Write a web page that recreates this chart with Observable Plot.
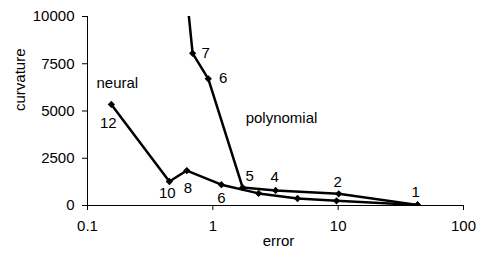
<!DOCTYPE html>
<html><head><meta charset="utf-8">
<script src="https://cdn.jsdelivr.net/npm/d3@7"></script>
<script src="https://cdn.jsdelivr.net/npm/@observablehq/plot@0.6"></script>
<style>body{margin:0;background:#fff}</style>
</head><body><div id="chart"></div>
<script>
// polynomial series (first point lies above the 10000 top and is clipped)
const polyError = [0.54, 0.69, 0.92, 1.73, 3.17, 10.1, 43];
const polyCurv  = [15000, 8050, 6700, 950, 800, 620, 30];
const polyLabel = ["", "7", "6", "5", "4", "2", "1"];

// neural series
const neuralError = [0.155, 0.45, 0.62, 1.17, 2.32, 4.74, 9.7, 43];
const neuralCurv  = [5350, 1270, 1850, 1100, 640, 370, 250, 30];
const neuralLabel = ["12", "10", "8", "6", "", "", "", ""];

const xTicks = [0.1, 1, 10, 100];
const yTicks = [0, 2500, 5000, 7500, 10000];

const seriesNames = ["neural", "polynomial"];
const seriesNameError = [0.173, 3.53];
const seriesNameCurv = [6450, 4600];

const poly = polyError.map((e, i) => ({error: e, curvature: polyCurv[i], label: polyLabel[i], idx: i}));
const neural = neuralError.map((e, i) => ({error: e, curvature: neuralCurv[i], label: neuralLabel[i], idx: i}));
const names = seriesNames.map((n, i) => ({name: n, error: seriesNameError[i], curvature: seriesNameCurv[i]}));

const font = "Liberation Sans, Arial, Helvetica, sans-serif";
const fs = 15;
const lineStyle = {x: "error", y: "curvature", stroke: "black", strokeWidth: 2.5, strokeLinejoin: "round", clip: true};
const dotStyle = {x: "error", y: "curvature", symbol: "square", rotate: 45, fill: "black", r: 2.9, clip: true};

// label placement (px offsets) per label
const polyOffsets = {"7": [13, 0], "6": [15, -1], "5": [7, -11], "4": [-1, -13], "2": [-1, -12], "1": [-2, -13]};
const neuralOffsets = {"12": [-3, 19], "10": [-2, 12], "8": [1, 18], "6": [0, 13]};

const labelMarks = [];
for (const d of poly) if (d.label) labelMarks.push(Plot.text([d], {x: "error", y: "curvature", text: "label", dx: polyOffsets[d.label][0], dy: polyOffsets[d.label][1], fontSize: fs, fill: "black"}));
for (const d of neural) if (d.label) labelMarks.push(Plot.text([d], {x: "error", y: "curvature", text: "label", dx: neuralOffsets[d.label][0], dy: neuralOffsets[d.label][1], fontSize: fs, fill: "black"}));

const chart = Plot.plot({
  width: 479,
  height: 255,
  marginLeft: 87,
  marginRight: 16,
  marginTop: 16,
  marginBottom: 50,
  style: {fontFamily: font, fontSize: fs + "px", color: "black", background: "white"},
  x: {type: "log", domain: [0.1, 100], ticks: xTicks, tickFormat: d => String(d), tickSize: 5, tickPadding: 10, label: null},
  y: {domain: [0, 10000], ticks: yTicks, tickFormat: d => String(d), tickSize: 5, tickPadding: 8, label: null},
  marks: [
    Plot.ruleY([0], {stroke: "black", strokeWidth: 1}),
    Plot.ruleX([0.1], {stroke: "black", strokeWidth: 1}),
    Plot.line(neural, lineStyle),
    Plot.line(poly, lineStyle),
    Plot.dot(neural, dotStyle),
    Plot.dot(poly, dotStyle),
    ...labelMarks,
    Plot.text(names, {x: "error", y: "curvature", text: "name", fontSize: fs, fill: "black"}),
    Plot.text(["error"], {frameAnchor: "bottom", dx: 3, dy: 40, fontSize: fs, fill: "black"}),
    Plot.text(["curvature"], {frameAnchor: "left", dx: -67, rotate: -90, fontSize: fs, fill: "black"})
  ]
});
document.getElementById("chart").appendChild(chart);
</script>
</body></html>
